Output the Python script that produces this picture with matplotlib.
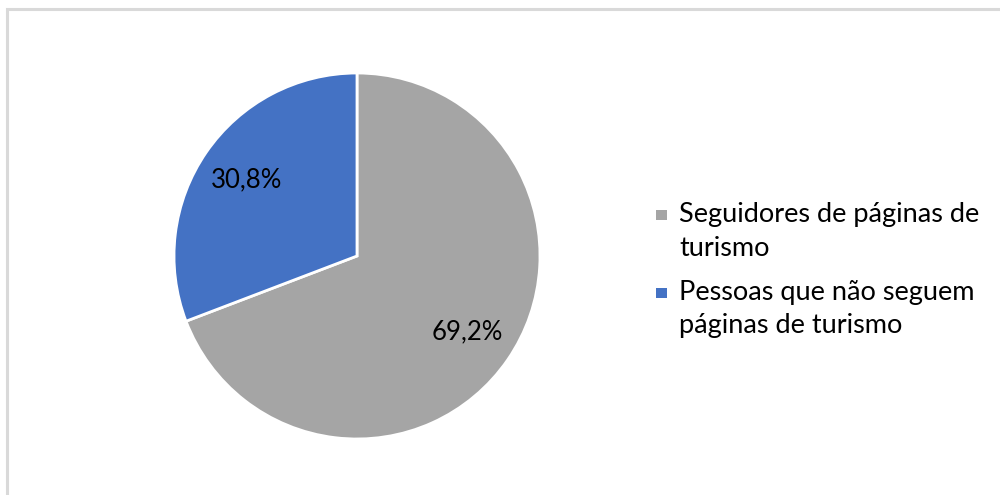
import matplotlib.pyplot as plt
from matplotlib.patches import Rectangle

labels = ['Seguidores de páginas de\nturismo', 'Pessoas que não seguem\npáginas de turismo']
values = [69.2, 30.8]
colors = ['#A5A5A5', '#4472C4']

plt.rcParams['font.family'] = ['Lato', 'DejaVu Sans']


def pct_label(p):
    return ('%.1f%%' % p).replace('.', ',')


def main():
    fig = plt.figure(figsize=(10, 4.95), dpi=100)
    W, H = 1000.0, 495.0

    # light grey frame around the chart area (cropped at right/bottom)
    fig.patches.append(Rectangle((0.0065, -0.05), 1.1, 1.05 - 0.019, transform=fig.transFigure,
                                 fill=False, edgecolor='#D9D9D9', linewidth=2.2))

    ax = fig.add_axes([174 / W, (H - 439) / H, 366 / W, 366 / H])
    wedges, texts, autotexts = ax.pie(values, colors=colors, startangle=90, counterclock=False,
                                      autopct=pct_label, pctdistance=0.735, radius=1,
                                      wedgeprops=dict(edgecolor='white', linewidth=2),
                                      textprops=dict(fontsize=18.5, color='black'))
    ax.set_xlim(-1, 1)
    ax.set_ylim(-1, 1)
    ax.set_aspect('equal')

    # legend: square markers next to the first line of each label
    baselines = [222, 300]
    line_step = 33.5
    for lab, col, yb in zip(labels, colors, baselines):
        for k, line in enumerate(lab.split('\n')):
            fig.text(679 / W, (H - yb - k * line_step) / H, line, fontsize=19.5,
                     va='baseline', ha='left')
        fig.patches.append(Rectangle((656 / W, (H - yb + 2) / H), 10.5 / W, 10.5 / H,
                                     transform=fig.transFigure, facecolor=col, edgecolor='none'))

    fig.savefig('out.png', dpi=100)


if __name__ == "__main__":
    main()
